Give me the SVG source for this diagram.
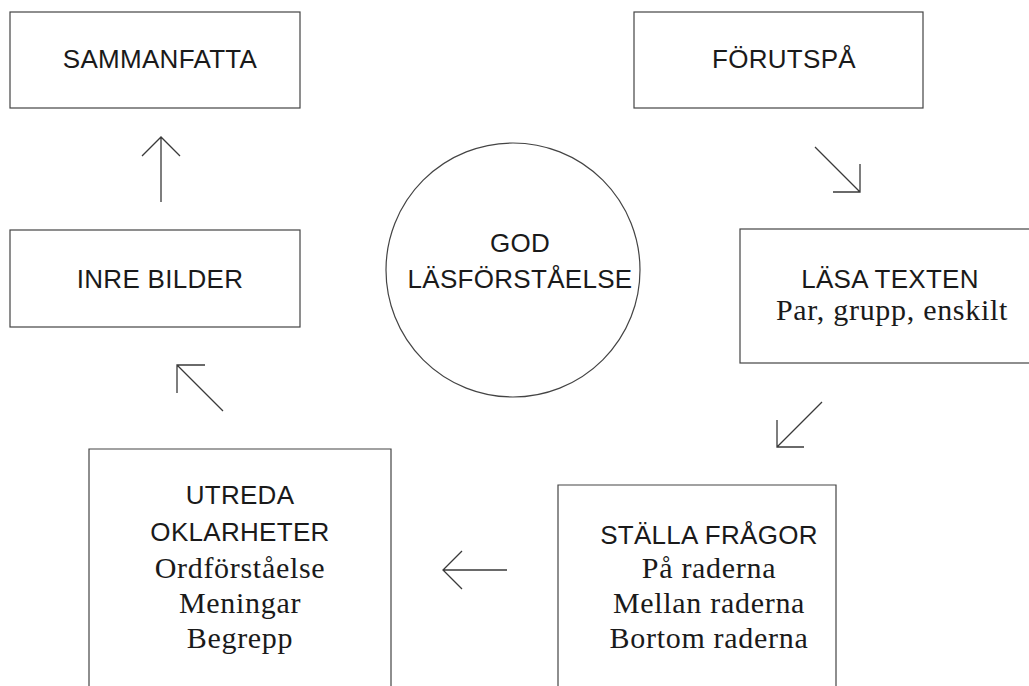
<svg xmlns="http://www.w3.org/2000/svg" width="1029" height="686" viewBox="0 0 1029 686">
<style>
.box{fill:#fff;stroke:#444;stroke-width:1.2}
.sans{font-family:"Liberation Sans",Arial,sans-serif;font-size:26px;letter-spacing:0.3px;fill:#1a1a1a;text-anchor:middle}
.serif{font-family:"Liberation Serif","Times New Roman",serif;font-size:30px;letter-spacing:0.7px;fill:#1a1a1a;text-anchor:middle}
.arr{fill:none;stroke:#3a3a3a;stroke-width:1.3;stroke-linecap:butt;stroke-linejoin:miter}
</style>
<rect width="1029" height="686" fill="#fff"/>
<g id="sammanfatta">
<rect class="box" x="10" y="12" width="290" height="96"/>
<text class="sans" x="160" y="68">SAMMANFATTA</text>
</g>
<g id="forutspa">
<rect class="box" x="634" y="12" width="289" height="96"/>
<text class="sans" x="784" y="68">FÖRUTSPÅ</text>
</g>
<g id="inre-bilder">
<rect class="box" x="10" y="230" width="290" height="97"/>
<text class="sans" x="160" y="288">INRE BILDER</text>
</g>
<g id="god-lasforstaelse">
<circle class="box" cx="513" cy="270" r="127"/>
<text class="sans" x="520" y="252">GOD</text>
<text class="sans" x="520" y="288">LÄSFÖRSTÅELSE</text>
</g>
<g id="lasa-texten">
<rect class="box" x="740" y="229" width="295" height="134"/>
<text class="sans" x="890" y="288">LÄSA TEXTEN</text>
<text class="serif" x="892" y="320">Par, grupp, enskilt</text>
</g>
<g id="stalla-fragor">
<path class="box" d="M558,690 V485 H836 V690"/>
<text class="sans" x="709" y="544">STÄLLA FRÅGOR</text>
<text class="serif" x="709" y="578">På raderna</text>
<text class="serif" x="709" y="613">Mellan raderna</text>
<text class="serif" x="709" y="648">Bortom raderna</text>
</g>
<g id="utreda-oklarheter">
<path class="box" d="M89,690 V449 H391 V690"/>
<text class="sans" x="240" y="504">UTREDA</text>
<text class="sans" x="240" y="541">OKLARHETER</text>
<text class="serif" x="240" y="578">Ordförståelse</text>
<text class="serif" x="240" y="613">Meningar</text>
<text class="serif" x="240" y="648">Begrepp</text>
</g>
<g id="connectors">
<path class="arr" d="M161,202 V137 M142,156 L161,137 L180,156"/>
<path class="arr" d="M815,147 L860,192 M860,164 V192 H833"/>
<path class="arr" d="M822,402 L777,447 M777,420 V447 H804"/>
<path class="arr" d="M507,570 H443 M462,551 L443,570 L462,589"/>
<path class="arr" d="M223,411 L177,365 M205,365 H177 V393"/>
</g>
</svg>
